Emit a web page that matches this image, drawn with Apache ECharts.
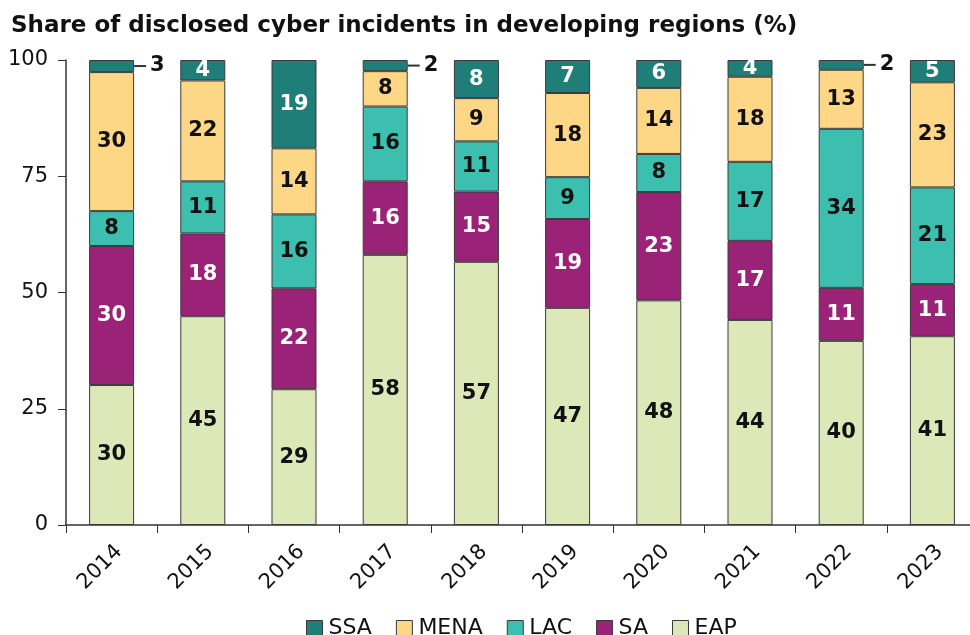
<!DOCTYPE html>
<html>
<head>
<meta charset="utf-8">
<script src="https://cdn.jsdelivr.net/npm/echarts@6/dist/echarts.min.js"></script>
<style>
  html, body { margin: 0; padding: 0; background: #fff; }
  #chart { width: 970px; height: 635px; }
</style>
</head>
<body>
<div id="chart"></div>
<script>
// years on the x axis
const years = ['2014', '2015', '2016', '2017', '2018', '2019', '2020', '2021', '2022', '2023'];
// shares per region (%)
const eap  = [30.1, 44.9, 29.2, 58.1, 56.6, 46.7, 48.3, 44.1, 39.6, 40.6];
const sa   = [29.9, 17.8, 21.7, 15.8, 15.1, 19.1, 23.3, 17.0, 11.4, 11.2];
const lac  = [7.5, 11.2, 15.9, 16.1, 10.8, 9.0, 8.2, 17.0, 34.2, 20.8];
const mena = [29.9, 21.7, 14.2, 7.6, 9.3, 18.1, 14.2, 18.3, 12.7, 22.6];
const ssa  = [2.6, 4.4, 19.0, 2.4, 8.2, 7.1, 6.0, 3.6, 2.1, 4.8];
const yTicks = [0, 25, 50, 75, 100];

const FONT = 'DejaVu Sans';
const chart = echarts.init(document.getElementById('chart'));

function mk(name, data, color, labelColor) {
  return {
    name: name,
    type: 'bar',
    stack: 'all',
    barWidth: 45,
    data: data.map(v => {
      // tiny segments get the label outside with a short leader line
      if (v < 3) {
        return {
          value: v,
          label: {
            position: 'right',
            distance: 0,
            color: '#111',
            formatter: p => '{l|}{v|' + Math.round(p.value) + '}',
            rich: {
              l: { width: 12, height: 2, backgroundColor: '#333', verticalAlign: 'middle' },
              v: { fontFamily: FONT, fontWeight: 'bold', fontSize: 21, color: '#111',
                   padding: [0, 0, 0, 4], verticalAlign: 'middle' }
            }
          }
        };
      }
      return v;
    }),
    itemStyle: { color: color, borderColor: '#3a3a3a', borderWidth: 1 },
    label: {
      show: true,
      position: 'inside',
      color: labelColor,
      fontFamily: FONT,
      fontWeight: 'bold',
      fontSize: 21,
      formatter: p => Math.round(p.value)
    },
    emphasis: { disabled: true }
  };
}

const option = {
  animation: false,
  title: {
    text: 'Share of disclosed cyber incidents in developing regions (%)',
    left: 6,
    top: 10,
    textStyle: { fontFamily: FONT, fontSize: 23, fontWeight: 'bold', color: '#111' }
  },
  legend: {
    data: ['SSA', 'MENA', 'LAC', 'SA', 'EAP'],
    left: 301,
    top: 612,
    itemWidth: 16,
    itemHeight: 15,
    itemGap: 24,
    icon: 'rect',
    itemStyle: { borderColor: '#3a3a3a', borderWidth: 1 },
    textStyle: { fontFamily: FONT, fontSize: 22, color: '#111', padding: [0, 0, 0, 1] }
  },
  grid: { left: 66, width: 912, top: 60, bottom: 110, outerBoundsMode: 'none' },
  xAxis: {
    type: 'category',
    data: years,
    axisLine: { lineStyle: { color: '#333', width: 1.5 } },
    axisTick: { show: true, length: 8, lineStyle: { color: '#333' } },
    axisLabel: { rotate: 45, fontFamily: FONT, fontSize: 21, color: '#111', margin: 16,
                 verticalAlign: 'top' }
  },
  yAxis: {
    type: 'value',
    min: 0,
    max: 100,
    interval: 25,
    axisLine: { show: true, lineStyle: { color: '#333', width: 1.5 } },
    axisTick: { show: true, length: 8, lineStyle: { color: '#333' } },
    splitLine: { show: false },
    axisLabel: {
      fontFamily: FONT, fontSize: 21, color: '#111', margin: 18,
      formatter: v => yTicks.includes(v) ? String(v) : ''
    }
  },
  series: [
    mk('EAP', eap, '#dde8b9', '#111'),
    mk('SA', sa, '#9a2378', '#fff'),
    mk('LAC', lac, '#3dbfb0', '#111'),
    mk('MENA', mena, '#fdd785', '#111'),
    mk('SSA', ssa, '#1f7f78', '#fff')
  ]
};
chart.setOption(option);
</script>
</body>
</html>
